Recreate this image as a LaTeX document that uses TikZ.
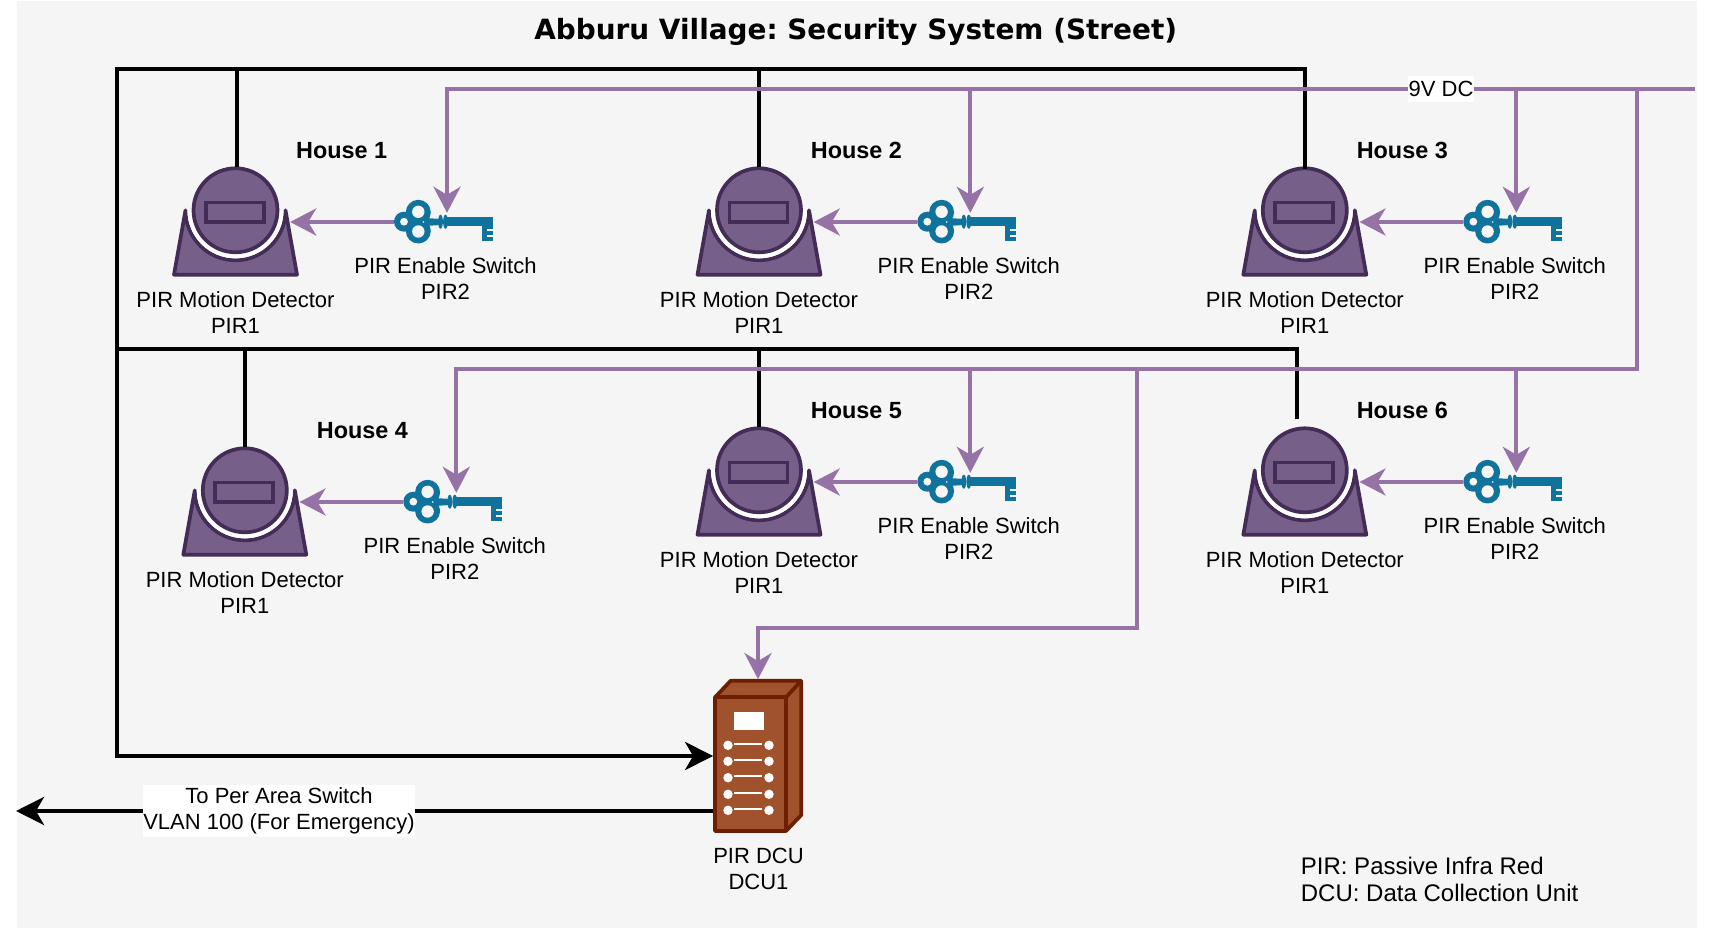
\documentclass[tikz,border=0pt]{standalone}
\usepackage{fontspec}
\setmainfont{Liberation Sans}
\newfontfamily\titlefont{DejaVu Sans}
\usetikzlibrary{arrows.meta}
\definecolor{bgcol}{HTML}{F5F5F5}
\definecolor{pircol}{HTML}{9673A6}
\definecolor{detfill}{HTML}{76608A}
\definecolor{detline}{HTML}{432D57}
\definecolor{keycol}{HTML}{10739E}
\definecolor{dcufill}{HTML}{A0522D}
\definecolor{dculine}{HTML}{6D1F00}
\tikzset{
	txt/.style={font=\fontsize{22}{26}\selectfont, align=center, inner sep=0pt},
	house/.style={font=\fontsize{23.4}{28}\selectfont\bfseries, inner sep=0pt, text height=16.8pt, text depth=0pt},
	bwire/.style={line width=4.2pt, draw=black},
	pwire/.style={line width=4pt, draw=pircol},
	bhead/.style={-{Stealth[length=28pt,width=28pt,inset=8pt]}},
	phead/.style={-{Stealth[length=26pt,width=27pt,inset=8pt]}},
	detbox/.style={inner sep=0pt, minimum width=109pt, minimum height=110pt},
	keybox/.style={inner sep=0pt, minimum width=106pt, minimum height=18pt},
	pics/pirdetector/.style={code={
		\draw[line width=3.7pt, draw=detline, fill=detfill, line join=round] (-50, 11.7) arc (180:360:50) -- (61.5, -52.7) -- (-61.5, -52.7) -- cycle;
		\draw[line width=4pt, white] (-46, 11.7) arc (180:360:46);
		\draw[line width=3.7pt, draw=detline, fill=detfill] (0, 11.7) circle (42);
		\draw[line width=3.7pt, draw=detline] (-29.5, -0.2) rectangle (28.5, 19.5);
	}},
	pics/pirkey/.style={code={
		\fill[keycol] (-28.7, 9.7) circle (12.5);
		\fill[keycol] (-28.7, -9) circle (12.5);
		\fill[keycol] (-43, 0.3) circle (10);
		\fill[keycol] (-30, 0) circle (9);
		\fill[keycol] (-22, 4) -- (-6, 3) -- (-6, -3) -- (-22, -4) -- cycle;
		\fill[keycol] (-6.5, 0.3) ellipse (2.4 and 7);
		\fill[keycol] (-1.5, 0.3) ellipse (2.4 and 7);
		\fill[keycol] (-2, 4.7) rectangle (45.7, -4);
		\fill[keycol] (34.7, -4) rectangle (45.7, -18.7);
		\fill[bgcol] (-28.7, 10.2) circle (6.2);
		\fill[bgcol] (-28.7, -9.5) circle (6.2);
		\fill[bgcol] (-43, 0.3) circle (3.9);
		\fill[bgcol] (-23.5, 0) circle (0.9);
		\fill[bgcol] (40, -6.6) rectangle (45.7, -8.8);
		\fill[bgcol] (40, -13) rectangle (45.7, -15.2);
	}}
}

\begin{document}
\begin{tikzpicture}[x=1pt, y=1pt]
	%%%%% START %%%%%
	\useasboundingbox (0, 0) rectangle (1714, 930);
	\fill[white] (0, 0) rectangle (1714, 930);
	\fill[bgcol] (17, 2) rectangle (1697, 929);

	\node[font=\fontsize{27.9}{33}\selectfont\titlefont\bfseries\frenchspacing, inner sep=0pt] (title) at (855.7, 898) {Abburu Village: Security System (Street)};

	% houses: number / detector / key / label
	\foreach \n/\dx/\dy/\kx/\ky/\hx/\hy in {
		1/235.5/708/447/708/341.7/780.2,
		2/759/708/970.3/708/856.5/780.2,
		3/1304.8/708/1516.3/708/1402.3/780.2,
		4/244.8/428/456.3/428/362.5/500.2,
		5/759/448/970.3/448/856.5/520.2,
		6/1304.8/448/1516.3/448/1402.3/520.2}{
		\node[detbox] (det\n) at (\dx, \dy) {};
		\pic at (\dx, \dy) {pirdetector};
		\node[keybox] (key\n) at (\kx, \ky) {};
		\pic at (\kx, \ky) {pirkey};
		\node[txt] (detlbl\n) at (\dx, \dy-91) {PIR Motion Detector\\PIR1};
		\node[txt] (keylbl\n) at (\kx-1.5, \ky-57) {PIR Enable Switch\\PIR2};
		\node[house] (houselbl\n) at (\hx, \hy) {House \n};
	}

	% dcu
	\node[inner sep=0pt, minimum width=89.4pt, minimum height=153.4pt] (dcu) at (758, 174) {};
	\draw[line width=3.7pt, draw=dculine, fill=dcufill, line join=round] (715, 232.7) -- (730.7, 249.3) -- (801.3, 249.3) -- (801.3, 115) -- (786, 99) -- (715, 99) -- cycle;
	\draw[line width=3.7pt, draw=dculine, line join=round] (715, 232.7) -- (786, 232.7) -- (786, 99);
	\draw[line width=3.7pt, draw=dculine] (786, 232.7) -- (801.3, 249.3);
	\fill[white] (733.7, 218.3) rectangle (764.3, 200);
	\foreach \ry in {184.7, 168.7, 152.3, 135.7, 119.7}{
		\fill[white] (728, \ry) circle (4.7);
		\fill[white] (769, \ry) circle (4.7);
		\draw[line width=2pt, white] (734, \ry+1.5) -- (762, \ry+1.5);
	}
	\node[txt] (dculbl) at (758.5, 61) {PIR DCU\\DCU1};

	% black wiring
	\coordinate (bustop) at (117, 861);
	\coordinate (busmid) at (117, 581);
	\coordinate (h1drop) at (237, 861);
	\coordinate (h6end) at (1297, 511);
	\draw[bwire, line cap=rect] (det3.north) -- (det3.north |- bustop) -- (bustop);
	\draw[bwire, bhead] (bustop) -- (bustop |- dcu.west) -- (dcu.west);
	\draw[bwire] (h1drop) -- (h1drop |- det1.north);
	\draw[bwire] (det2.north |- bustop) -- (det2.north);
	\draw[bwire] (busmid) -- (busmid -| h6end) -- (h6end);
	\draw[bwire] (det4.north |- busmid) -- (det4.north);
	\draw[bwire] (det5.north |- busmid) -- (det5.north);

	\coordinate (perarea) at (16, 119);
	\draw[bwire, bhead] (dcu.west |- perarea) -- (perarea);
	\node[txt, fill=white, minimum width=270pt, minimum height=51.7pt] (vlan) at (279, 119.2) {To Per Area Switch\\VLAN 100 (For Emergency)};

	% 9v feed
	\coordinate (feed) at (1695, 841);
	\coordinate (vbus) at (1637, 841);
	\coordinate (lbus) at (1637, 561);
	\coordinate (dcuturn) at (1136.5, 301.5);
	\draw[pwire, phead] (feed) -- (feed -| key1.north) -- (key1.north);
	\draw[pwire, phead] (key2.north |- feed) -- (key2.north);
	\draw[pwire, phead] (key3.north |- feed) -- (key3.north);
	\draw[pwire, phead] (vbus) -- (lbus) -- (lbus -| key4.north) -- (key4.north);
	\draw[pwire, phead] (key5.north |- lbus) -- (key5.north);
	\draw[pwire, phead] (key6.north |- lbus) -- (key6.north);
	\draw[pwire, phead] (dcuturn |- lbus) -- (dcuturn) -- (dcuturn -| dcu.north) -- (dcu.north);
	\foreach \n in {1,...,6}{
		\draw[pwire, phead] (key\n.west) -- (det\n.east);
	}
	\node[font=\fontsize{22}{26}\selectfont, fill=white, inner sep=0pt, minimum width=66pt, minimum height=25.7pt] (vdc) at (1441, 841) {9V DC};

	\node[font=\fontsize{24}{27}\selectfont\frenchspacing, align=left, inner sep=0pt, anchor=west] (legend) at (1300.7, 51) {PIR: Passive Infra Red\\DCU: Data Collection Unit};
	%%%%% END %%%%%
\end{tikzpicture}
\end{document}
